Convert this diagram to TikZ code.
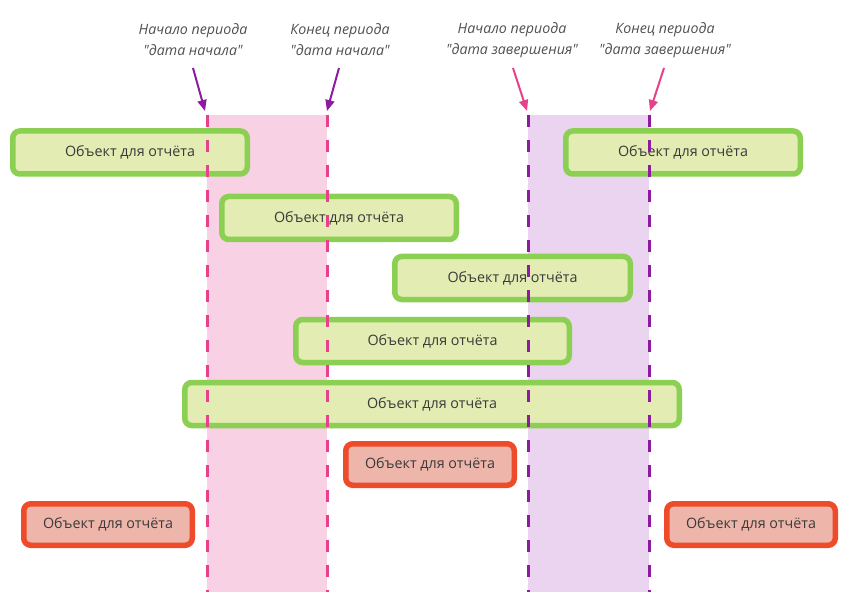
\documentclass[tikz,border=0pt]{standalone}
\usepackage{fontspec}
\setmainfont{Open Sans}[Ligatures=TeXOff]
\usetikzlibrary{arrows.meta}
\definecolor{pinkband}{HTML}{F8D1E4}
\definecolor{purpleband}{HTML}{EBD4F0}
\definecolor{pinkline}{HTML}{E8418C}
\definecolor{purpleline}{HTML}{8C1BA0}
\definecolor{objgreen}{HTML}{8BD052}
\definecolor{objfill}{HTML}{E2ECB3}
\definecolor{objred}{HTML}{EE4B2B}
\definecolor{redfill}{HTML}{EEB5AB}
\definecolor{textgray}{HTML}{3A3A3A}
\definecolor{lblgray}{HTML}{505050}
\begin{document}
\begin{tikzpicture}[x=1pt,y=-1pt,
  objbox/.style={draw=objgreen, fill=objfill, line width=5.5pt, rounded corners=7pt,
    text=textgray, font=\fontsize{14.3}{17}\selectfont, inner sep=0pt},
  redbox/.style={objbox, draw=objred, fill=redfill},
  lbl/.style={align=center, text=lblgray, font=\itshape\fontsize{14.2}{21}\selectfont, inner sep=0pt},
  vdash/.style={line width=3pt, dash pattern=on 12pt off 13pt},
  arr/.style={line width=2pt, -{Triangle[length=11pt,width=9pt]}}
]
\useasboundingbox (0,0) rectangle (850,601);
% bands
\fill[pinkband] (207,115) rectangle (327,592);
\fill[purpleband] (528,115) rectangle (649,592);
% objects
\node[objbox, minimum width=234.5pt, minimum height=43pt] (o1) at (130,152.5) {Объект для отчёта};
\node[objbox, minimum width=234.5pt, minimum height=43pt] (o9) at (683,152.5) {Объект для отчёта};
\node[objbox, minimum width=234.5pt, minimum height=43pt] (o2) at (339,218) {Объект для отчёта};
\node[objbox, minimum width=235.5pt, minimum height=43pt] (o3) at (512.5,278) {Объект для отчёта};
\node[objbox, minimum width=273.5pt, minimum height=43pt] (o4) at (432.5,341) {Объект для отчёта};
\node[objbox, minimum width=494.5pt, minimum height=43pt] (o5) at (432,404) {Объект для отчёта};
\node[redbox, minimum width=168.5pt, minimum height=41.5pt] (o6) at (430,464.5) {Объект для отчёта};
\node[redbox, minimum width=168.5pt, minimum height=41.5pt] (o7) at (108,524.5) {Объект для отчёта};
\node[redbox, minimum width=168.5pt, minimum height=41.5pt] (o8) at (751,524.5) {Объект для отчёта};
% dashed lines
\coordinate (p1t) at (207,115); \coordinate (p1b) at (207,592);
\coordinate (p2t) at (327,115); \coordinate (p2b) at (327,592);
\coordinate (q1t) at (528,115); \coordinate (q1b) at (528,592);
\coordinate (q2t) at (649,115); \coordinate (q2b) at (649,592);
\draw[vdash, pinkline] (p1t) -- (p1b);
\draw[vdash, pinkline] (p2t) -- (p2b);
\draw[vdash, purpleline] (q1t) -- (q1b);
\draw[vdash, purpleline] (q2t) -- (q2b);
% labels
\node[lbl] (l1) at (193,40) {Начало периода\\"дата начала"};
\node[lbl] (l2) at (340,40) {Конец периода\\"дата начала"};
\node[lbl] (l3) at (512,40) {Начало периода\\"дата завершения"};
\node[lbl] (l4) at (665,40) {Конец периода\\"дата завершения"};
% arrows
\coordinate (a1s) at (193,68); \coordinate (a1e) at (205,111);
\coordinate (a2s) at (339,68); \coordinate (a2e) at (327,111);
\coordinate (a3s) at (513,68); \coordinate (a3e) at (527,111);
\coordinate (a4s) at (664,68); \coordinate (a4e) at (650,111);
\draw[arr, purpleline] (a1s) -- (a1e);
\draw[arr, purpleline] (a2s) -- (a2e);
\draw[arr, pinkline] (a3s) -- (a3e);
\draw[arr, pinkline] (a4s) -- (a4e);
\end{tikzpicture}
\end{document}
